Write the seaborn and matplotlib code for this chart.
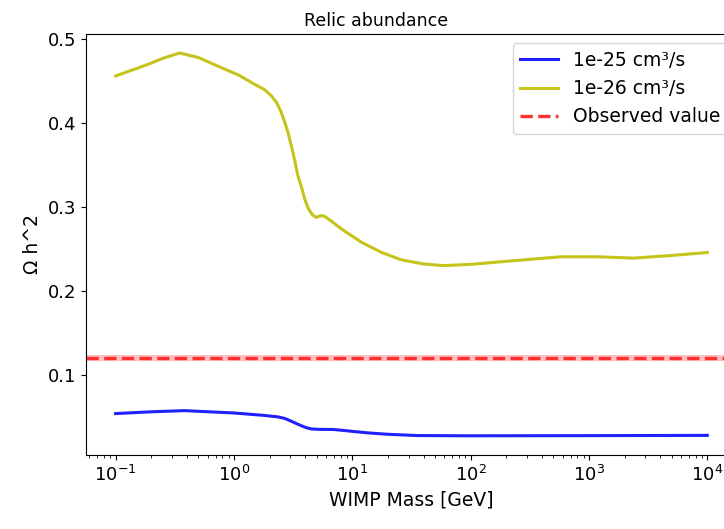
import numpy as np
import pandas as pd
import seaborn as sns
import matplotlib
matplotlib.use("Agg")
import matplotlib.pyplot as plt

# 1e-25 cm^3/s curve
mass_25 = [0.1, 0.2, 0.382, 1.0, 1.8, 2.36, 2.7, 3.05, 3.4, 3.7, 4.1, 4.5, 5.2, 7.0,
           10.0, 13.5, 20.0, 35.6, 100, 1000, 10000]
omega_25 = [0.0537, 0.0558, 0.0572, 0.0544, 0.0515, 0.0497, 0.0478, 0.0446, 0.0415,
            0.0393, 0.0368, 0.0354, 0.0349, 0.0347, 0.0325, 0.0307, 0.0290, 0.0275,
            0.0272, 0.0274, 0.0277]

# 1e-26 cm^3/s curve
mass_26 = [0.1, 0.189, 0.25, 0.347, 0.5, 0.78, 1.1, 1.5, 1.8, 2.07, 2.3, 2.51, 2.7,
           2.86, 3.0, 3.15, 3.3, 3.42, 3.56, 3.7, 3.95, 4.22, 4.6, 4.96, 5.4, 5.82,
           6.8, 8.05, 11.9, 17.5, 25.8, 40, 59, 100, 180, 576, 1200, 2380, 4600, 10000]
omega_26 = [0.456, 0.470, 0.477, 0.4834, 0.478, 0.466, 0.457, 0.446, 0.440, 0.4325,
            0.424, 0.4127, 0.400, 0.389, 0.377, 0.365, 0.352, 0.341, 0.332, 0.325,
            0.310, 0.299, 0.2905, 0.2875, 0.2895, 0.2890, 0.282, 0.274, 0.258,
            0.246, 0.237, 0.232, 0.230, 0.2315, 0.2346, 0.2405, 0.2405, 0.239,
            0.2417, 0.2456]

observed = 0.12
observed_err = 0.004

labels = ["1e-25 cm³/s", "1e-26 cm³/s", "Observed value"]

df25 = pd.DataFrame({"mass": mass_25, "omega": omega_25})
df26 = pd.DataFrame({"mass": mass_26, "omega": omega_26})

plt.rcParams["font.family"] = ["DejaVu Sans"]

fig = plt.figure(figsize=(7.24, 5.29), dpi=100)
ax = fig.add_axes([0.1188, 0.140, 0.899, 0.796])

sns.lineplot(data=df25, x="mass", y="omega", ax=ax, color="#2020ff", lw=2.2, label=labels[0])
sns.lineplot(data=df26, x="mass", y="omega", ax=ax, color="#c4c41a", lw=2.2, label=labels[1])
ax.axhspan(observed - observed_err, observed + observed_err, color="#ff3030", alpha=0.3, lw=0)
ax.axhline(observed, color="#ff3030", ls="--", lw=2.4, label=labels[2])

ax.set_xscale("log")
ax.set_xlabel("WIMP Mass [GeV]", fontsize=13.5)
ax.set_ylabel("Ω h^2", fontsize=13.5)
ax.set_title("Relic abundance", fontsize=12.5, x=0.445)
ax.tick_params(labelsize=13)
ax.legend(loc="upper right", fontsize=13.5)

fig.savefig("out.png", dpi=100)
